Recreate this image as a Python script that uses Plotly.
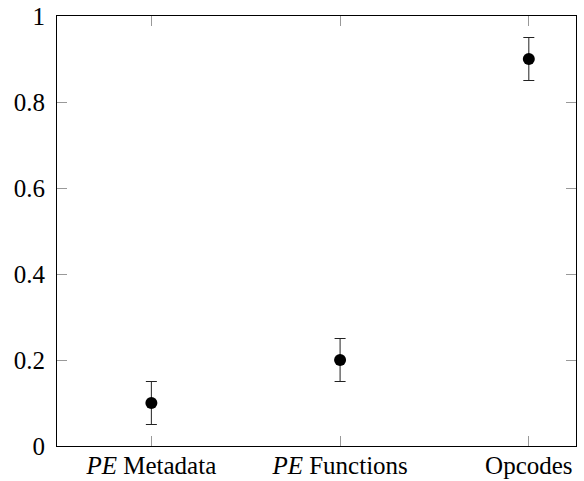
import plotly.graph_objects as go

categories = ["<i>PE</i> Metadata", "<i>PE</i> Functions", "Opcodes"]
values = [0.1, 0.2, 0.9]
errors = [0.05, 0.05, 0.05]
y_ticks = [0, 0.2, 0.4, 0.6, 0.8, 1]
y_tick_labels = ["0", "0.2", "0.4", "0.6", "0.8", "1"]

xpos = list(range(len(categories)))
FONT = "Liberation Serif"

fig = go.Figure()
fig.add_trace(go.Scatter(
    x=xpos, y=values, mode="markers",
    marker=dict(color="black", size=12),
    error_y=dict(type="data", array=errors, visible=True,
                 color="#222222", thickness=1, width=5.5),
    showlegend=False,
))

axis_common = dict(
    showline=True, linecolor="black", linewidth=1, mirror="ticks",
    ticks="inside", ticklen=10, tickcolor="#999999", tickwidth=1,
    showgrid=False, zeroline=False, automargin=False,
    tickfont=dict(family=FONT, size=25, color="black"),
)

fig.update_xaxes(range=[-0.5, 2.25], tickvals=xpos, ticktext=categories,
                 ticklabelstandoff=-3, **axis_common)
fig.update_yaxes(range=[0, 1], tickvals=y_ticks, ticktext=y_tick_labels,
                 ticklabelstandoff=6, **axis_common)

fig.update_layout(
    width=584, height=481,
    margin=dict(l=57, r=8, t=16, b=35, pad=0),
    plot_bgcolor="white", paper_bgcolor="white",
    font=dict(family=FONT, size=25, color="black"),
)

fig.write_html(
    "out.html",
    config={"displayModeBar": False},
    post_script="document.body.style.margin='0';document.body.style.overflow='hidden';",
)
